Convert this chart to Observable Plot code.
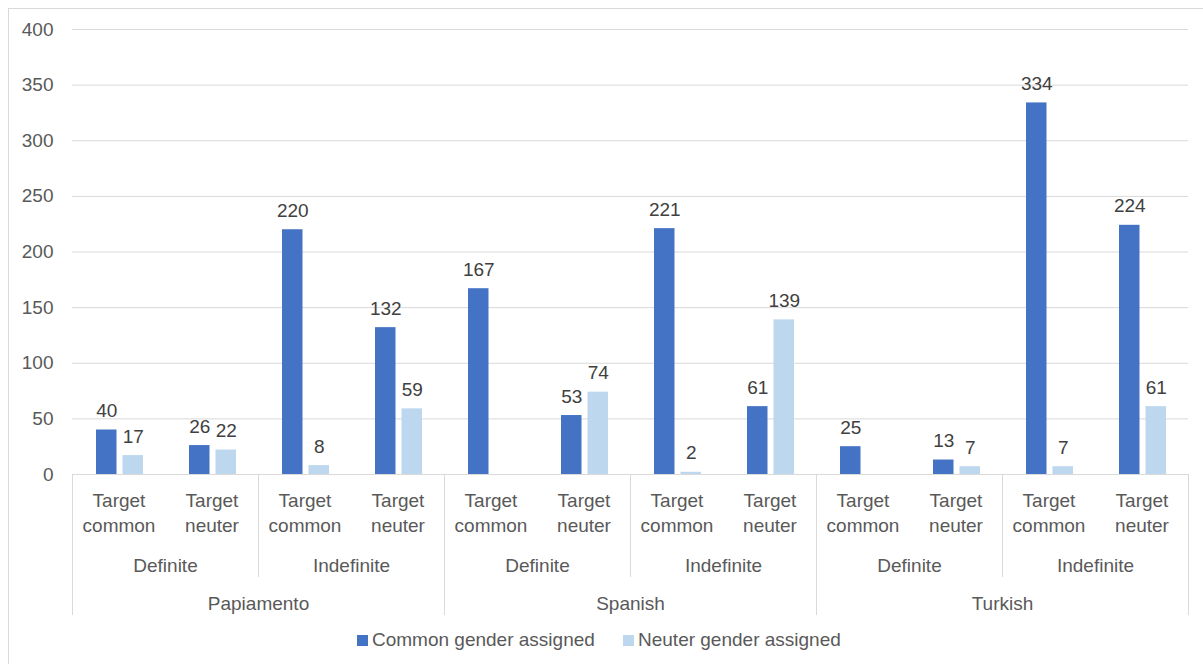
<!DOCTYPE html>
<html>
<head>
<meta charset="utf-8">
<script src="https://cdn.jsdelivr.net/npm/d3@7"></script>
<script src="https://cdn.jsdelivr.net/npm/@observablehq/plot@0.6"></script>
<style>
  html, body { margin: 0; padding: 0; background: #fff; overflow: hidden; }
  body { width: 1203px; height: 664px; position: relative; font-family: "Liberation Sans", Arial, sans-serif; }
  #frame { position: absolute; left: 8px; top: 8px; width: 1300px; height: 800px; border: 1px solid #d9d9d9; box-sizing: border-box; pointer-events: none; }
  #chart { position: absolute; left: 0; top: 0; }
  .item { position: absolute; top: 628px; display: flex; align-items: center; font-size: 19px; color: #595959; white-space: nowrap; line-height: 24px; }
  .swatch { display: inline-block; width: 11px; height: 11px; margin-right: 4px; margin-top: 1px; }
</style>
</head>
<body>
<div id="frame"></div>
<div id="chart"></div>
<div id="legend"></div>
<script>
// ---- data ----
const languages = ["Papiamento", "Spanish", "Turkish"];
const articleTypes = ["Definite", "Indefinite"];
const targetGenders = ["Target common", "Target neuter"];
const seriesNames = ["Common gender assigned", "Neuter gender assigned"];
const seriesColors = ["#4472C4", "#BDD7EE"];
// order: language > article > target
const commonAssigned = [40, 26, 220, 132, 167, 53, 221, 61, 25, 13, 334, 224];
const neuterAssigned = [17, 22, 8, 59, null, 74, 2, 139, null, 7, 7, 61];
const yTicks = [0, 50, 100, 150, 200, 250, 300, 350, 400];

// ---- build table ----
const slots = [];
const rows = [];
languages.forEach((lang, i) => {
  articleTypes.forEach((art, j) => {
    targetGenders.forEach((tgt, k) => {
      const idx = i * 4 + j * 2 + k;
      const slot = `${lang}|${art}|${tgt}`;
      slots.push({slot, lang, art, tgt, idx});
      rows.push({slot, series: seriesNames[0], value: commonAssigned[idx]});
      rows.push({slot, series: seriesNames[1], value: neuterAssigned[idx]});
    });
  });
});
const slotKeys = slots.map(s => s.slot);

const W = 1203, H = 625;
const mL = 72, mR = 15, mT = 29, mB = 151;
const BW = (W - mL - mR) / slotKeys.length;
const font = '"Liberation Sans", Arial, sans-serif';
const fs = 19;
const gridColor = "#d9d9d9";
const textColor = "#595959";

const commonRows = rows.filter(r => r.series === seriesNames[0] && r.value != null);
const neuterRows = rows.filter(r => r.series === seriesNames[1] && r.value != null);

// bar placement inside each category band
const barA = {insetLeft: 24, insetRight: BW - 44.5};
const barB = {insetLeft: 50.5, insetRight: BW - 71};
const centerA = (24 + 44.5) / 2 - BW / 2;
const centerB = (50.5 + 71) / 2 - BW / 2;

const firstOfPair = slots.filter(s => s.idx % 2 === 0 && s.idx % 4 !== 0).map(s => s.slot);
const firstOfLang = slots.filter(s => s.idx % 4 === 0).map(s => s.slot);
const lastSlot = [slotKeys[slotKeys.length - 1]];
const pairLabelSlots = slots.filter(s => s.idx % 2 === 0);
const langLabelSlots = slots.filter(s => s.idx % 4 === 1);

const plot = Plot.plot({
  width: W,
  height: H,
  marginLeft: mL,
  marginRight: mR,
  marginTop: mT,
  marginBottom: mB,
  style: {fontFamily: font, fontSize: fs + "px", color: textColor, background: "transparent", overflow: "visible"},
  x: {type: "band", domain: slotKeys, padding: 0, axis: null},
  y: {domain: [0, 400], ticks: yTicks, axis: null},
  marks: [
    Plot.gridY(yTicks.filter(t => t > 0), {stroke: gridColor, strokeOpacity: 1, strokeWidth: 1}),
    Plot.axisY(yTicks, {tickSize: 0, tickPadding: 19, fontSize: fs, fill: textColor, label: null}),
    Plot.barY(commonRows, {x: "slot", y: "value", fill: seriesColors[0], ...barA}),
    Plot.barY(neuterRows, {x: "slot", y: "value", fill: seriesColors[1], ...barB}),
    Plot.ruleY([0], {stroke: gridColor, strokeWidth: 1}),
    Plot.text(commonRows, {x: "slot", y: "value", text: d => String(d.value), dx: centerA, dy: -13, lineAnchor: "bottom", fontSize: fs, fill: "#404040"}),
    Plot.text(neuterRows, {x: "slot", y: "value", text: d => String(d.value), dx: centerB, dy: -13, lineAnchor: "bottom", fontSize: fs, fill: "#404040"}),
    // separators (ticks of the multi-level axis)
    Plot.axisX({ticks: firstOfPair, tickSize: 103, dx: -BW / 2, text: null, stroke: gridColor, strokeOpacity: 1, label: null}),
    Plot.axisX({ticks: firstOfLang, tickSize: 141, dx: -BW / 2, text: null, stroke: gridColor, strokeOpacity: 1, label: null}),
    Plot.axisX({ticks: lastSlot, tickSize: 141, dx: BW / 2, text: null, stroke: gridColor, strokeOpacity: 1, label: null}),
    // level 1 labels (two lines)
    Plot.axisX({ticks: slotKeys, tickSize: 0, tickPadding: 19, tickFormat: k => k.split("|")[2].split(" ")[0], fontSize: fs, fill: textColor, label: null}),
    Plot.axisX({ticks: slotKeys, tickSize: 0, tickPadding: 44, tickFormat: k => k.split("|")[2].split(" ")[1], fontSize: fs, fill: textColor, label: null}),
    // level 2 labels
    Plot.axisX({ticks: pairLabelSlots.map(s => s.slot), tickSize: 0, tickPadding: 84, dx: BW / 2, tickFormat: k => k.split("|")[1], fontSize: fs, fill: textColor, label: null}),
    // level 3 labels
    Plot.axisX({ticks: langLabelSlots.map(s => s.slot), tickSize: 0, tickPadding: 122, dx: BW / 2, tickFormat: k => k.split("|")[0], fontSize: fs, fill: textColor, label: null})
  ]
});
document.getElementById("chart").appendChild(plot);

// legend
const legend = document.getElementById("legend");
const legendLeft = [357, 623];
seriesNames.forEach((name, i) => {
  const item = document.createElement("div");
  item.className = "item";
  item.style.left = legendLeft[i] + "px";
  const sw = document.createElement("span");
  sw.className = "swatch";
  sw.style.background = seriesColors[i];
  const label = document.createElement("span");
  label.textContent = name;
  item.appendChild(sw);
  item.appendChild(label);
  legend.appendChild(item);
});
</script>
</body>
</html>
